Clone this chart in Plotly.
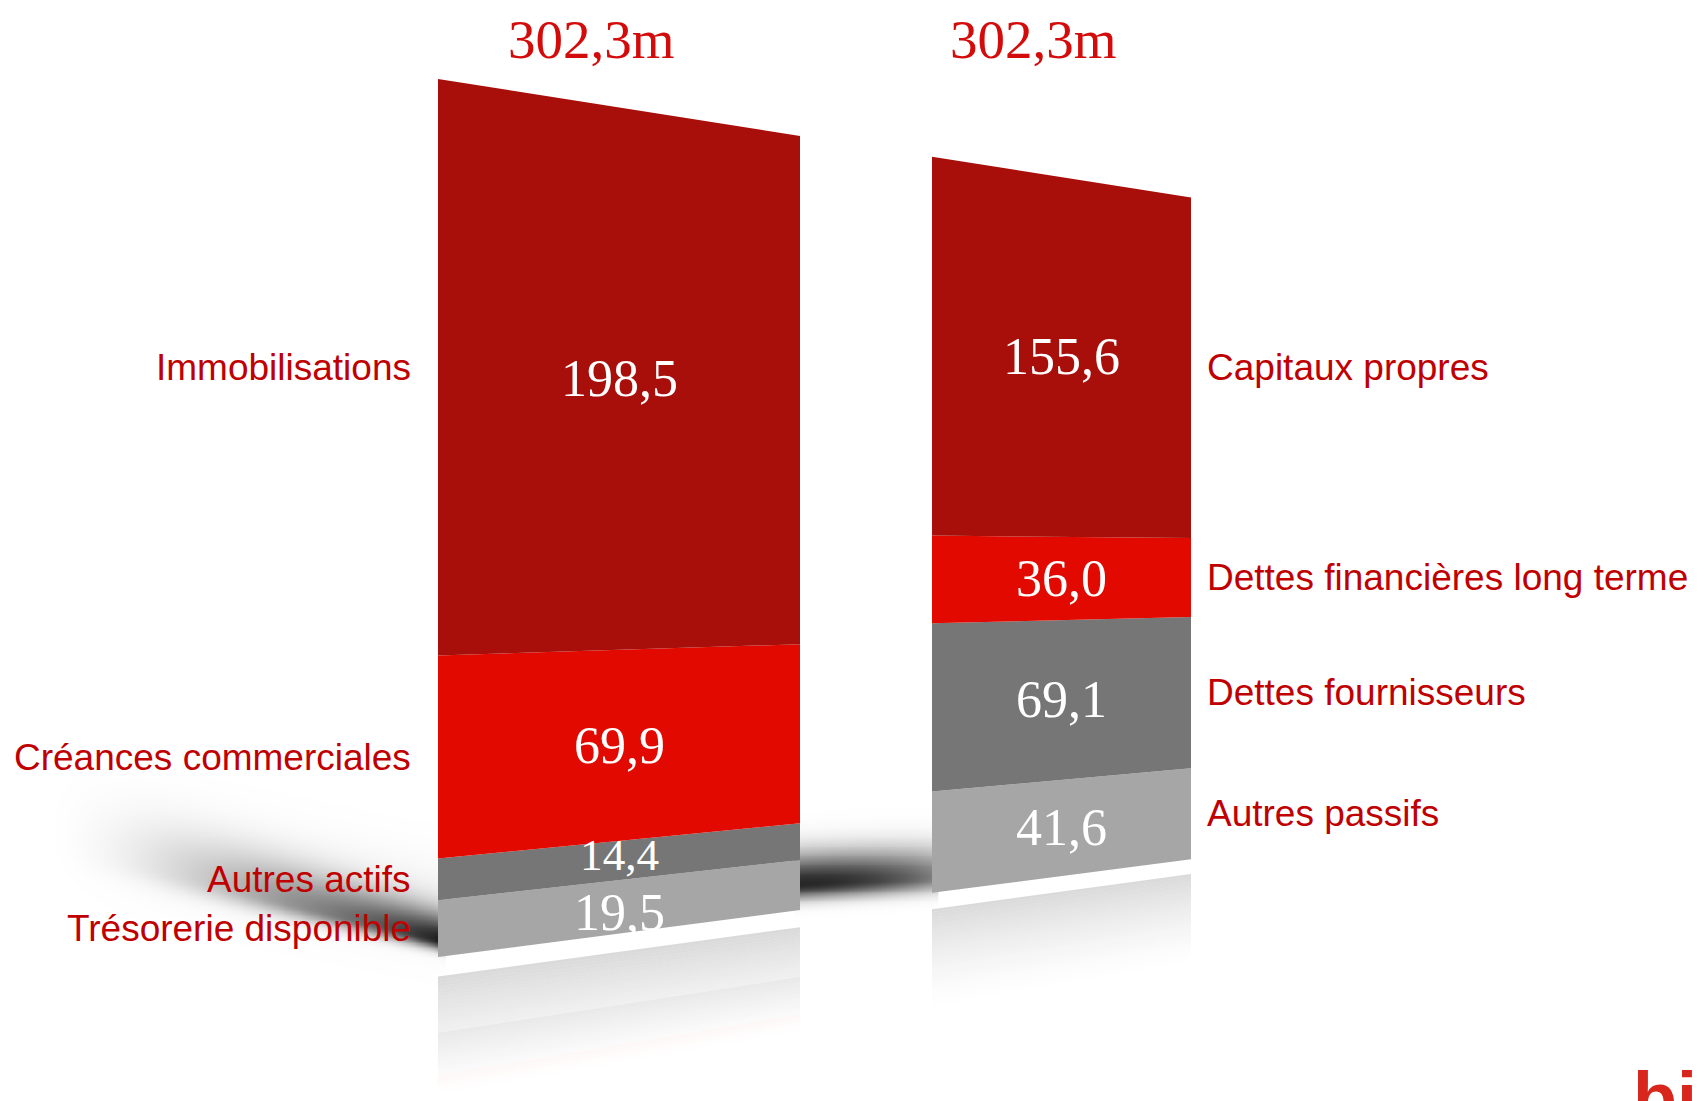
import math
import plotly.graph_objects as go

# ---------------- data ----------------
asset_labels = ["Trésorerie disponible", "Autres actifs", "Créances commerciales", "Immobilisations"]
asset_values = [19.5, 14.4, 69.9, 198.5]
liab_labels = ["Autres passifs", "Dettes fournisseurs", "Dettes financières long terme", "Capitaux propres"]
liab_values = [41.6, 69.1, 36.0, 155.6]
segment_colors = ["#A6A6A6", "#767676", "#E20A00", "#A80E0A"]

# ---------------- scene geometry (perspective), screen pixels ----------------
W, H = 1705, 1101
OFF = 8                   # page body margin of the html page
PX_PER_UNIT = 2.9044      # screen pixels per million at the near edge
BASE_PX = 957             # screen y of the base line at the near edge
HORIZON_PX = 560          # screen y of the horizon
X_NEAR = 438
SHRINK = 0.000327         # perspective shrink per pixel to the right
VH = (BASE_PX - HORIZON_PX) / PX_PER_UNIT


def s(x):
    return 1 - SHRINK * (x - X_NEAR)


def proj(x, v):
    """value v (millions, from the base) at screen x -> y-axis value"""
    return VH + (v - VH) * s(x)


def px_to_v(p):
    return (BASE_PX - p) / PX_PER_UNIT


def v_to_px(v):
    return BASE_PX - v * PX_PER_UNIT


bars = [
    dict(x0=438, x1=800, labels=asset_labels, values=asset_values, side="left"),
    dict(x0=932, x1=1191, labels=liab_labels, values=liab_values, side="right"),
]

fig = go.Figure()


def poly(xs, ys, color, opacity=1.0):
    fig.add_trace(go.Scatter(
        x=xs, y=ys, mode="lines", fill="toself", fillcolor=color,
        line=dict(width=0, color=color), opacity=opacity,
        hoverinfo="skip", showlegend=False))


# ---------------- soft floor shadows (decoration, smooth heatmaps) ----------------
shadow_scale = [[0, "rgba(0,0,0,0)"], [1, "rgba(0,0,0,1)"]]


def shadow(xa, xb, ya, yb, fn):
    nx, ny = 110, 90
    xs = [xa + (xb - xa) * i / (nx - 1) for i in range(nx)]
    pys = [yb - (yb - ya) * j / (ny - 1) for j in range(ny)]  # bottom -> top
    ys = [px_to_v(p) for p in pys]
    z = [[fn(x, p) for x in xs] for p in pys]
    fig.add_trace(go.Heatmap(
        x=xs, y=ys, z=z, zmin=0, zmax=1, colorscale=shadow_scale,
        zsmooth="best", showscale=False, hoverinfo="skip"))


b0, b1 = bars[0], bars[1]


def smooth(t):
    t = max(0.0, min(1.0, t))
    return t * t * (3 - 2 * t)


def left_shadow(x, p):
    d = b0["x0"] - x
    c = 940 - 0.25 * d
    dy = p - c
    sig = (28 + 0.06 * d) if dy < 0 else (9 + 0.03 * d)
    vert = math.exp(-(dy / sig) ** 2)
    hor = math.exp(-max(d, 0) / 190) * smooth((x - 40) / 260)
    haze = 0.05 * math.exp(-((p - (905 - 0.2 * d)) / 45) ** 2) * smooth((x - 40) / 160)
    return min(1, 0.85 * vert * hor + haze)


def mid_shadow(x, p):
    d = x - b0["x1"]
    c = 884 - 0.05 * d
    dy = p - c
    sig = 30 if dy < 0 else 14
    vert = math.exp(-(dy / sig) ** 2)
    hor = 1 - 0.4 * (max(d, 0) / (b1["x0"] - b0["x1"])) ** 2
    return 0.85 * vert * hor


shadow(30, b0["x0"] + 6, 770, 990, left_shadow)
shadow(b0["x1"] - 6, b1["x0"] + 6, 790, 950, mid_shadow)

# ---------------- reflections ----------------
GAP = 6.7
FADE = 42.0
NSL = 36
A0 = 0.42
for b in bars:
    cum = [0]
    for v in b["values"]:
        cum.append(cum[-1] + v)
    for k in range(NSL):
        da = FADE * k / NSL
        db = FADE * (k + 1) / NSL
        alpha = A0 * (1 - (k + 0.5) / NSL) ** 1.5
        for si in range(len(b["values"])):
            lo_c, hi_c = max(da, cum[si]), min(db, cum[si + 1])
            if hi_c <= lo_c:
                continue
            va, vb = -(GAP + lo_c), -(GAP + hi_c)
            x0, x1 = b["x0"], b["x1"]
            poly([x0, x1, x1, x0, x0],
                 [proj(x0, va), proj(x1, va), proj(x1, vb), proj(x0, vb), proj(x0, va)],
                 segment_colors[si], alpha)

# ---------------- bars ----------------
annotations = []
VAL_FONT = "Liberation Serif, Georgia, serif"
LAB_FONT = "Liberation Sans, Arial, sans-serif"
for b in bars:
    x0, x1 = b["x0"], b["x1"]
    xc = (x0 + x1) / 2
    c = 0.0
    centers, sizes = [], []
    for si, (lab, v) in enumerate(zip(b["labels"], b["values"])):
        va, vb = c, c + v
        poly([x0, x1, x1, x0, x0],
             [proj(x0, va), proj(x1, va), proj(x1, vb), proj(x0, vb), proj(x0, va)],
             segment_colors[si])
        mid = (va + vb) / 2
        seg_px = v * PX_PER_UNIT * s(xc)
        sizes.append(min(52, 1.15 * seg_px))
        centers.append(v_to_px(proj(xc, mid)))
        if b["side"] == "left":
            annotations.append(dict(
                x=x0 - 25, y=proj(x0, mid), text=lab, showarrow=False,
                xanchor="right", yanchor="middle",
                font=dict(family=LAB_FONT, size=37, color="#C00000")))
        else:
            annotations.append(dict(
                x=x1 + 14, y=proj(x1, mid), text=lab, showarrow=False,
                xanchor="left", yanchor="middle",
                font=dict(family=LAB_FONT, size=37, color="#C00000")))
        c = vb
    # keep neighbouring value labels from colliding
    for i in range(len(centers) - 1):
        need = 0.58 * (sizes[i] + sizes[i + 1]) + 2
        have = centers[i] - centers[i + 1]
        if have < need:
            push = (need - have) / 2
            centers[i] += push
            centers[i + 1] -= push
    for v, cy, fs in zip(b["values"], centers, sizes):
        annotations.append(dict(
            x=xc, y=px_to_v(cy), text=f"{v:.1f}".replace(".", ","),
            showarrow=False, xanchor="center", yanchor="middle",
            font=dict(family=VAL_FONT, size=fs, color="white")))
    total = sum(b["values"])
    annotations.append(dict(
        x=xc - 28, y=px_to_v(39), text=f"{total:.1f}".replace(".", ",") + "m",
        showarrow=False, xanchor="center", yanchor="middle",
        font=dict(family=VAL_FONT, size=55, color="#D40B0B")))

# logo (cropped at the bottom edge, as in the source)
annotations.append(dict(
    x=1631, y=px_to_v(1098), text="<b>bi</b>", showarrow=False,
    xanchor="left", yanchor="middle",
    font=dict(family=LAB_FONT, size=72, color="#D9261C")))

fig.update_layout(
    width=W, height=H,
    margin=dict(l=0, r=0, t=0, b=0),
    paper_bgcolor="white", plot_bgcolor="white",
    xaxis=dict(range=[OFF, W + OFF], visible=False, fixedrange=True),
    yaxis=dict(range=[px_to_v(H + OFF), px_to_v(OFF)], visible=False, fixedrange=True),
    showlegend=False,
    annotations=annotations,
)

fig.write_html("out.html")
